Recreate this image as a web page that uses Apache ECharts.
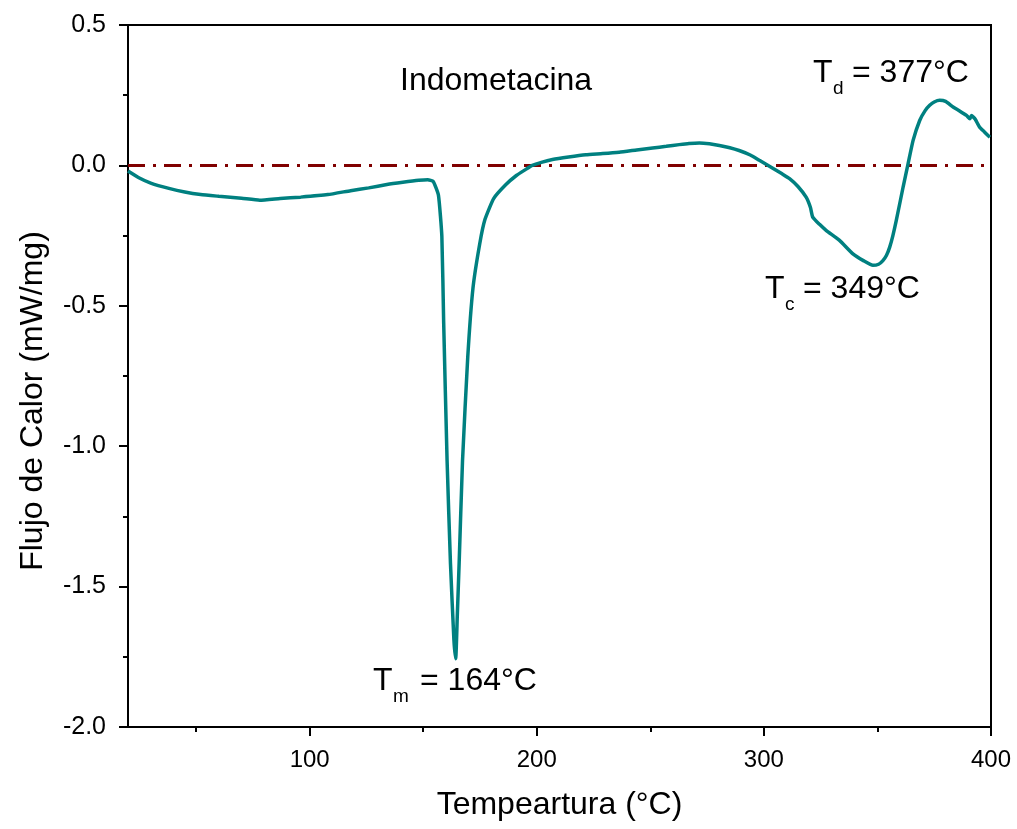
<!DOCTYPE html>
<html>
<head>
<meta charset="utf-8">
<script src="https://cdn.jsdelivr.net/npm/echarts@6/dist/echarts.min.js"></script>
<style>
  html, body { margin: 0; padding: 0; background: #fff; }
  #main { width: 1017px; height: 829px; }
</style>
</head>
<body>
<div id="main"></div>
<script>
var temps = [20, 25, 30, 38, 45, 52, 60, 70, 78, 87, 96, 108, 118, 126, 134, 141, 148, 152, 154.4, 156.7,
  158.2, 159.0, 160.5, 162.0, 163.5, 164.3, 165.0, 165.8, 167.3, 169.6, 171.9, 174.9, 177.2, 181.0, 186.3,
  191, 195, 198, 202, 206.9, 214, 221.6, 229, 236.3, 244, 251, 257, 262.7, 267, 271.6, 276, 280.4,
  285, 289.1, 294, 298, 303.9, 308, 311.3, 315, 318.6, 320.5, 321.5, 324.5, 327.5, 333.3, 339.2, 344, 348,
  350.5, 352.4, 354, 355.4, 356.8, 358.3, 361.3, 363.5, 365.7, 368.6, 371, 373, 375, 377.4, 380, 383.3,
  386, 389.2, 390.7, 391.4, 393, 395, 397, 399.5];
var flow = [-0.02, -0.045, -0.063, -0.082, -0.095, -0.104, -0.11, -0.117, -0.124, -0.118, -0.113, -0.104,
  -0.09, -0.08, -0.068, -0.06, -0.053, -0.051, -0.057, -0.106, -0.253, -0.56, -1.051, -1.419, -1.689,
  -1.757, -1.603, -1.419, -1.051, -0.683, -0.437, -0.278, -0.192, -0.118, -0.069, -0.036, -0.015, 0.0,
  0.011, 0.021, 0.03, 0.038, 0.042, 0.047, 0.055, 0.062, 0.068, 0.074, 0.078, 0.08, 0.077, 0.071, 0.063,
  0.053, 0.037, 0.018, -0.01, -0.03, -0.047, -0.075, -0.113, -0.15, -0.184, -0.21, -0.232, -0.267, -0.315,
  -0.34, -0.356, -0.352, -0.339, -0.32, -0.291, -0.25, -0.196, -0.077, 0.006, 0.089, 0.16, 0.195, 0.214,
  0.226, 0.232, 0.228, 0.208, 0.195, 0.178, 0.166, 0.178, 0.165, 0.136, 0.12, 0.10];
// linea base en cero
var zeroX = [20, 400];
var zeroY = [0, 0];
// ticks
var xTickLabels = [100, 200, 300, 400];
var xMinorTicks = [50, 150, 250, 350];

var font = 'Liberation Sans, Arial, sans-serif';
var curva = temps.map(function (t, i) { return [t, flow[i]]; });
var base = zeroX.map(function (t, i) { return [t, zeroY[i]]; });

var myChart = echarts.init(document.getElementById('main'));

// texto con subindice: T + sub + resto
function etiqueta(x, y, sub, resto, dx) {
  return [
    { type: 'text', x: x, y: y, style: { text: 'T', font: '32px ' + font, fill: '#000', verticalAlign: 'middle' } },
    { type: 'text', x: x + 20, y: y + 16, style: { text: sub, font: '19px ' + font, fill: '#000', verticalAlign: 'middle' } },
    { type: 'text', x: x + dx, y: y, style: { text: resto, font: '32px ' + font, fill: '#000', verticalAlign: 'middle' } }
  ];
}

var graficos = [
  { type: 'text', x: 400, y: 81, style: { text: 'Indometacina', font: '32px ' + font, fill: '#000', verticalAlign: 'middle' } },
  { type: 'text', x: 33, y: 401, rotation: Math.PI / 2,
    style: { text: 'Flujo de Calor (mW/mg)', font: '32px ' + font, fill: '#000', align: 'center', verticalAlign: 'middle' } }
].concat(etiqueta(373, 681, 'm', '= 164°C', 47))
 .concat(etiqueta(813, 73, 'd', '= 377°C', 39))
 .concat(etiqueta(765, 289, 'c', '= 349°C', 38));

option = {
  backgroundColor: '#fff',
  animation: false,
  grid: { left: 128, right: 26, top: 25, bottom: 102, show: true, borderColor: '#000', borderWidth: 2, containLabel: false },
  xAxis: [
    {
      type: 'value', min: 20, max: 400,
      name: 'Tempeartura (°C)', nameLocation: 'middle', nameGap: 62,
      nameTextStyle: { fontFamily: font, fontSize: 32, color: '#000' },
      axisLine: { onZero: false, lineStyle: { color: '#000', width: 2 } },
      axisTick: { length: 9, lineStyle: { color: '#000', width: 2 }, customValues: xTickLabels },
      axisLabel: { fontFamily: font, fontSize: 24, color: '#000', margin: 21, customValues: xTickLabels },
      splitLine: { show: false }
    },
    {
      type: 'value', min: 20, max: 400, position: 'bottom',
      axisLine: { show: false, onZero: false },
      axisTick: { length: 5, lineStyle: { color: '#000', width: 2 }, customValues: xMinorTicks },
      axisLabel: { show: false },
      splitLine: { show: false }
    }
  ],
  yAxis: {
    type: 'value', min: -2, max: 0.5, interval: 0.5,
    axisLine: { show: true, onZero: false, lineStyle: { color: '#000', width: 2 } },
    axisTick: { show: true, length: 9, lineStyle: { color: '#000', width: 2 } },
    minorTick: { show: true, splitNumber: 2, length: 5, lineStyle: { color: '#000', width: 2 } },
    axisLabel: { fontFamily: font, fontSize: 25, color: '#000', margin: 22, formatter: function (v) { return v.toFixed(1); } },
    splitLine: { show: false }
  },
  series: [
    {
      type: 'line', data: base, symbol: 'none', silent: true,
      lineStyle: { color: '#800000', width: 3, type: [17, 8, 3, 8] }
    },
    {
      type: 'line', data: curva, symbol: 'none', smooth: 0.15,
      lineStyle: { color: '#008080', width: 3.5 }
    }
  ],
  graphic: graficos
};

myChart.setOption(option);
</script>
</body>
</html>
